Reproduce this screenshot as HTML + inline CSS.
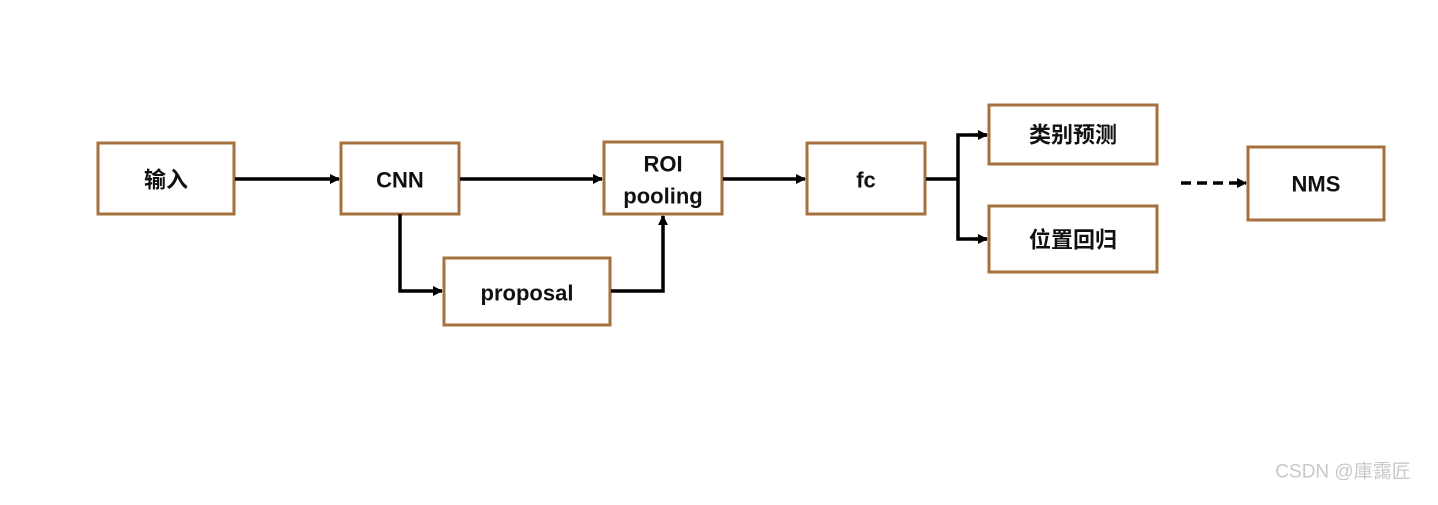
<!DOCTYPE html>
<html><head><meta charset="utf-8"><style>
body{margin:0;background:#fff;}
svg text{font-family:"Liberation Sans","Noto Sans CJK SC",sans-serif;font-size:22px;font-weight:bold;fill:#111;text-anchor:middle;dominant-baseline:central;}
</style></head><body>
<svg width="1438" height="500" xmlns="http://www.w3.org/2000/svg">
<defs><marker id="a" markerWidth="10" markerHeight="10" refX="9" refY="5" orient="auto" markerUnits="userSpaceOnUse"><path d="M0,0L10,5L0,10z" fill="#000"/></marker></defs>
<g fill="none" stroke="#a5723f" stroke-width="3">
<rect x="98" y="143" width="136" height="71"/>
<rect x="341" y="143" width="118" height="71"/>
<rect x="604" y="142" width="118" height="72"/>
<rect x="444" y="258" width="166" height="67"/>
<rect x="807" y="143" width="118" height="71"/>
<rect x="989" y="105" width="168" height="59"/>
<rect x="989" y="206" width="168" height="66"/>
<rect x="1248" y="147" width="136" height="73"/>
</g>
<g stroke="#000" stroke-width="3.5" fill="none">
<line x1="235" y1="179" x2="339" y2="179" marker-end="url(#a)"/>
<line x1="460" y1="179" x2="602" y2="179" marker-end="url(#a)"/>
<polyline points="400,214 400,291 442,291" marker-end="url(#a)"/>
<polyline points="611,291 663,291 663,216" marker-end="url(#a)"/>
<line x1="723" y1="179" x2="805" y2="179" marker-end="url(#a)"/>
<line x1="926" y1="179" x2="958" y2="179"/>
<polyline points="987,135 958,135 958,239 987,239"/>
<line x1="975" y1="135" x2="987" y2="135" marker-end="url(#a)"/>
<line x1="975" y1="239" x2="987" y2="239" marker-end="url(#a)"/>
<line x1="1181" y1="183" x2="1246" y2="183" stroke-dasharray="10,6" marker-end="url(#a)"/>
</g>
<text x="166" y="180">输入</text>
<text x="400" y="180">CNN</text>
<text x="663" y="164">ROI</text>
<text x="663" y="196">pooling</text>
<text x="527" y="293">proposal</text>
<text x="866" y="180">fc</text>
<text x="1073" y="135">类别预测</text>
<text x="1073" y="240">位置回归</text>
<text x="1316" y="184">NMS</text>
<text x="1343" y="472" style="font-size:19px;font-weight:normal;fill:#c8c8c8">CSDN @庫靄匠</text>
</svg>
</body></html>
